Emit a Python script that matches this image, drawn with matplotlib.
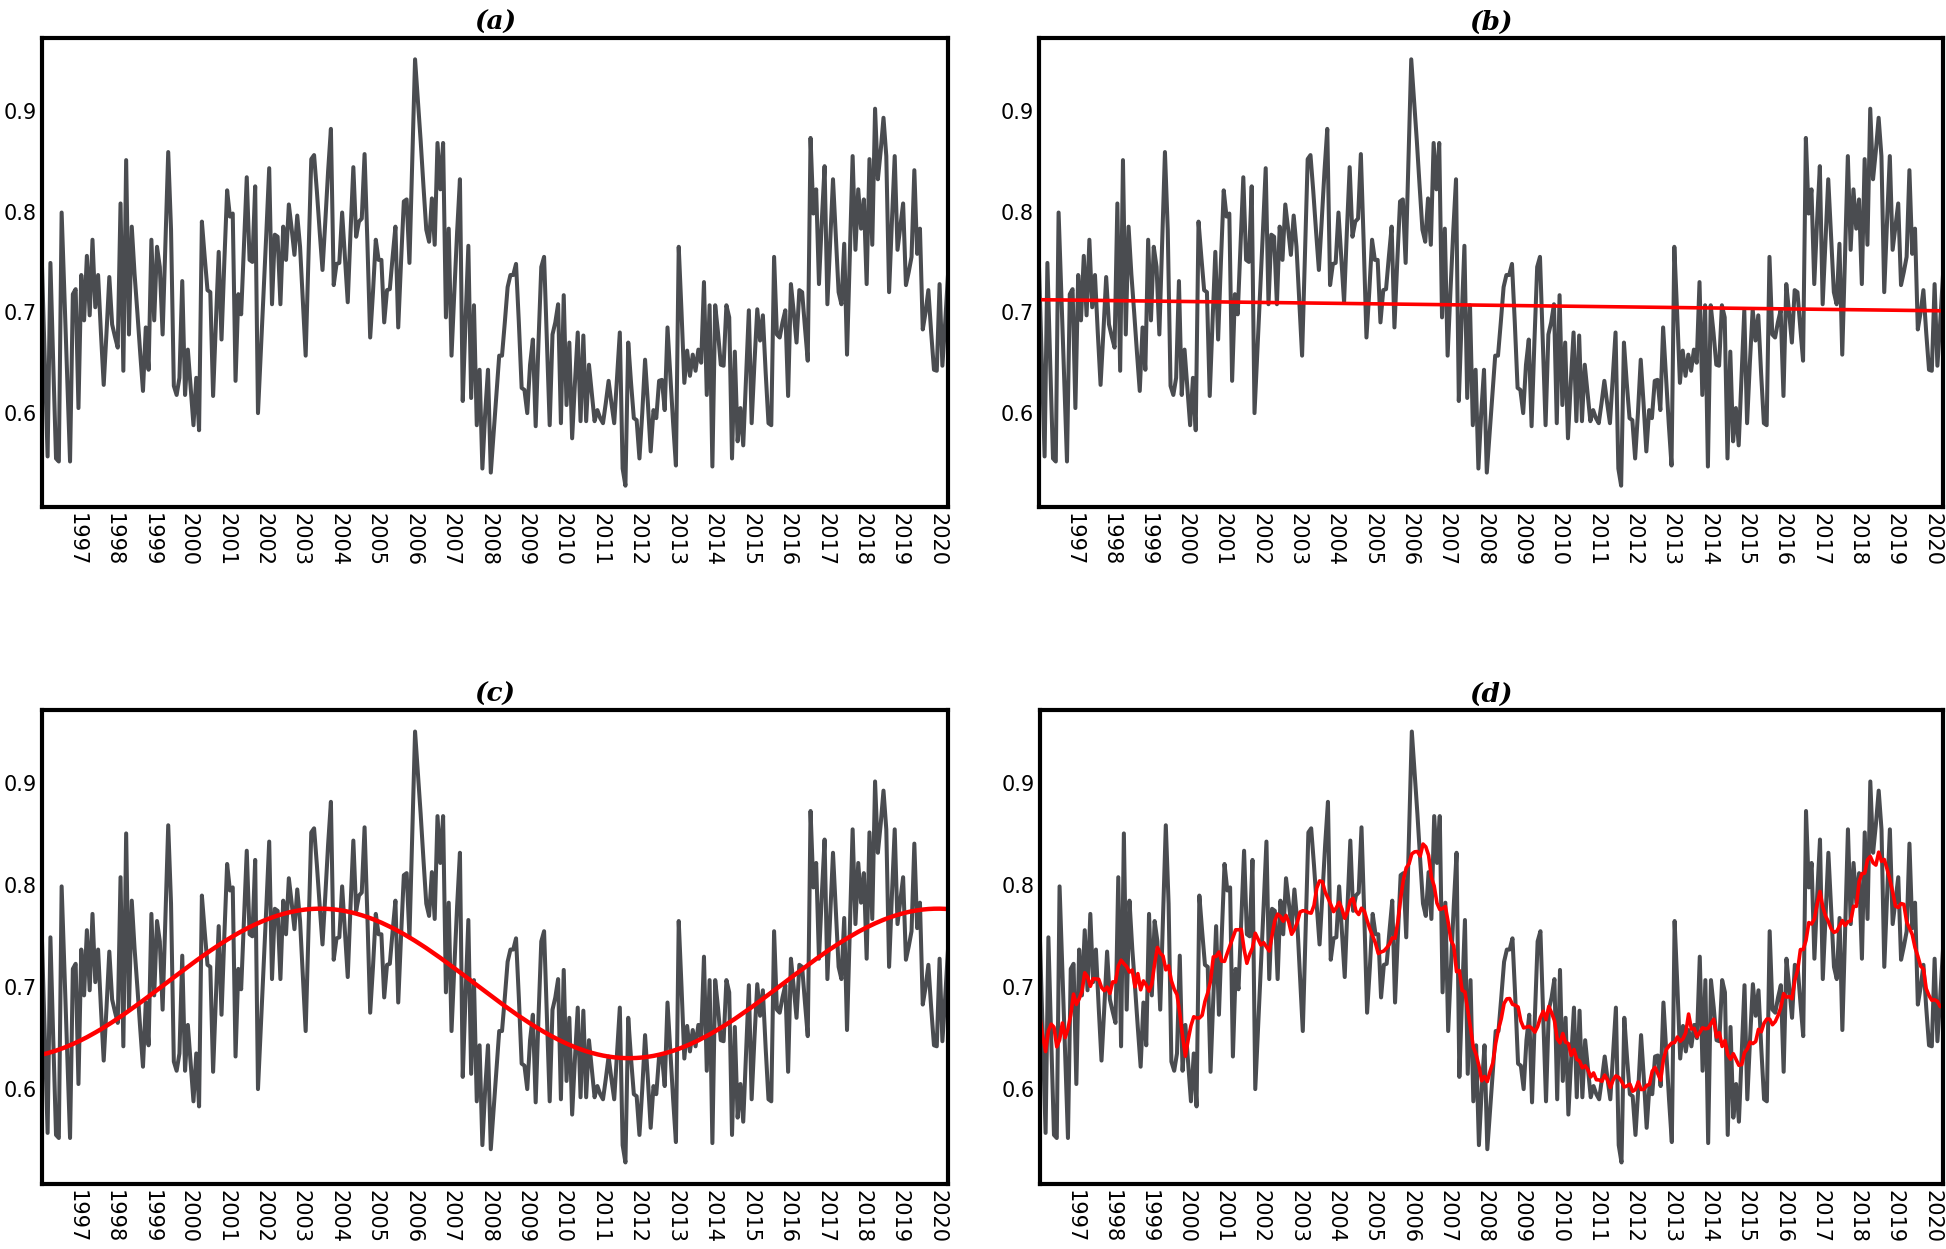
import numpy as np
import pandas as pd
import matplotlib
matplotlib.use('Agg')
import matplotlib.pyplot as plt
import matplotlib.dates as mdates

# series values (three chunks, left to right)
vals_1996_2004 = [0.745, 0.65, 0.557, 0.749, 0.65, 0.555, 0.552, 0.799, 0.717, 0.634,
                  0.552, 0.718, 0.723, 0.605, 0.737, 0.692, 0.756, 0.697, 0.772, 0.705,
                  0.737, 0.68, 0.628, 0.68, 0.735, 0.688, 0.676, 0.665, 0.808, 0.642,
                  0.851, 0.678, 0.785, 0.738, 0.70, 0.66, 0.622, 0.685, 0.643, 0.772,
                  0.692, 0.765, 0.745, 0.678, 0.77, 0.859, 0.782, 0.627, 0.618, 0.635,
                  0.731, 0.618, 0.663, 0.625, 0.588, 0.635, 0.583, 0.790, 0.755, 0.722,
                  0.720, 0.617, 0.69, 0.760, 0.673, 0.75, 0.821, 0.795, 0.798, 0.632,
                  0.718, 0.698, 0.766, 0.834, 0.752, 0.750, 0.825, 0.600, 0.66, 0.72,
                  0.78, 0.843, 0.708, 0.777, 0.775, 0.708, 0.785, 0.752, 0.807, 0.783,
                  0.757, 0.796, 0.765, 0.71, 0.657, 0.755, 0.852, 0.856, 0.82, 0.78,
                  0.742, 0.79, 0.84, 0.882, 0.727, 0.748, 0.749, 0.799, 0.755, 0.710]
vals_2004_2012 = [0.78, 0.844, 0.775, 0.790, 0.793, 0.857, 0.77, 0.675, 0.72, 0.772,
                  0.752, 0.752, 0.690, 0.722, 0.723, 0.755, 0.785, 0.685, 0.75, 0.810,
                  0.812, 0.749, 0.85, 0.951, 0.91, 0.87, 0.825, 0.782, 0.770, 0.813,
                  0.767, 0.868, 0.822, 0.868, 0.695, 0.783, 0.657, 0.72, 0.78, 0.832,
                  0.612, 0.692, 0.766, 0.615, 0.707, 0.588, 0.643, 0.545, 0.60, 0.643,
                  0.541, 0.58, 0.62, 0.657, 0.657, 0.69, 0.725, 0.737, 0.737, 0.748,
                  0.69, 0.625, 0.623, 0.600, 0.648, 0.673, 0.587, 0.67, 0.745, 0.755,
                  0.67, 0.588, 0.678, 0.69, 0.708, 0.590, 0.717, 0.608, 0.670, 0.575,
                  0.63, 0.680, 0.592, 0.677, 0.592, 0.648, 0.62, 0.592, 0.603, 0.595,
                  0.590, 0.61, 0.632, 0.61, 0.590, 0.635, 0.680, 0.545, 0.528, 0.670,
                  0.63, 0.595, 0.593, 0.555, 0.60, 0.653]
vals_2012_2020 = [0.61, 0.562, 0.603, 0.595, 0.632, 0.633, 0.603, 0.685, 0.637, 0.59,
                  0.548, 0.765, 0.70, 0.630, 0.662, 0.637, 0.658, 0.642, 0.663, 0.650,
                  0.730, 0.618, 0.707, 0.547, 0.707, 0.68, 0.648, 0.647, 0.707, 0.695,
                  0.555, 0.661, 0.572, 0.605, 0.568, 0.635, 0.702, 0.590, 0.65, 0.703,
                  0.672, 0.697, 0.64, 0.590, 0.588, 0.755, 0.678, 0.675, 0.69, 0.702,
                  0.617, 0.728, 0.70, 0.670, 0.722, 0.720, 0.685, 0.652, 0.873, 0.798,
                  0.822, 0.728, 0.79, 0.845, 0.708, 0.77, 0.832, 0.775, 0.720, 0.708,
                  0.768, 0.658, 0.755, 0.855, 0.762, 0.822, 0.783, 0.812, 0.728, 0.852,
                  0.767, 0.902, 0.832, 0.86, 0.893, 0.855, 0.720, 0.79, 0.855, 0.762,
                  0.785, 0.808, 0.727, 0.74, 0.755, 0.841, 0.758, 0.783, 0.683, 0.70,
                  0.722, 0.68, 0.643, 0.642, 0.728, 0.647, 0.69, 0.737]

start_date = '1996-01-31'
end_date = '2020-04-15'
panel_titles = ['(a)', '(b)', '(c)', '(d)']

values = np.array(vals_1996_2004 + vals_2004_2012 + vals_2012_2020)
dates = pd.date_range(start_date, end_date, periods=len(values))
series = pd.Series(values, index=dates)

# time in years, used for the fits
t = (dates - dates[0]).days.values / 365.25

# (b) linear trend
slope, intercept = np.polyfit(t, values, 1)
trend = slope * t + intercept

# (c) sine fit, scan the period and keep the best least squares fit
best = None
for period in np.arange(8, 30, 0.05):
    A = np.column_stack([np.ones_like(t), np.sin(2 * np.pi * t / period), np.cos(2 * np.pi * t / period)])
    coef, res, rk, sv = np.linalg.lstsq(A, values, rcond=None)
    rss = np.sum((A @ coef - values) ** 2)
    if best is None or rss < best[0]:
        best = (rss, A @ coef)
sine_fit = best[1]

# (d) moving average
smooth = series.rolling(window=10, center=True, min_periods=1).mean().values

gray = '#4a4c50'
fig = plt.figure(figsize=(19.46, 12.49), dpi=100)
W, H = 1946, 1249
boxes = [(42, 38, 948, 507), (1039, 38, 1943, 507),
         (42, 710, 948, 1184), (1040, 710, 1943, 1184)]
overlays = [None, trend, sine_fit, smooth]
red_lw = [0, 2.6, 3.2, 2.6]

for i, (x0, y0, x1, y1) in enumerate(boxes):
    ax = fig.add_axes([x0 / W, 1 - y1 / H, (x1 - x0) / W, (y1 - y0) / H])
    ax.plot(dates, values, color=gray, lw=2.9)
    if overlays[i] is not None:
        ax.plot(dates, overlays[i], color='red', lw=red_lw[i])
    ax.set_xlim(dates[0], dates[-1])
    ax.set_yticks([0.6, 0.7, 0.8, 0.9])
    ax.xaxis.set_major_locator(mdates.YearLocator())
    ax.xaxis.set_major_formatter(mdates.DateFormatter('%Y'))
    ax.tick_params(axis='both', length=0, labelsize=15, pad=4)
    for lab in ax.get_xticklabels():
        lab.set_rotation(270)
        lab.set_horizontalalignment('center')
    for sp in ax.spines.values():
        sp.set_linewidth(3)
        sp.set_color('black')
    ax.set_title(panel_titles[i], fontsize=19, fontweight='bold', fontstyle='italic',
                 family='DejaVu Serif', pad=6)

plt.savefig('out.png', dpi=100)
